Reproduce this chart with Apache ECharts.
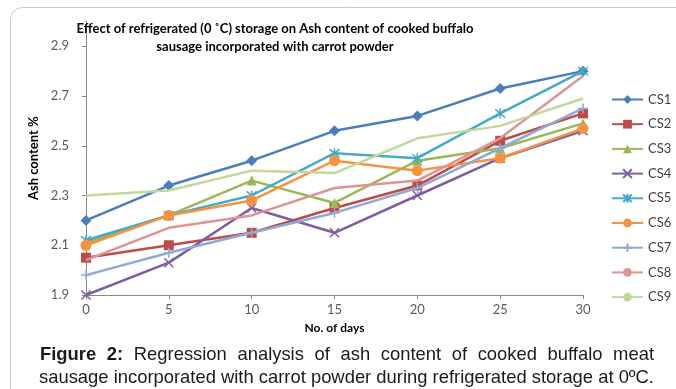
<!DOCTYPE html>
<html><head><meta charset="utf-8">
<script src="https://cdn.jsdelivr.net/npm/echarts@6/dist/echarts.min.js"></script>
<style>html,body{margin:0;padding:0;background:#fff}#c{width:676px;height:389px}</style>
</head><body><div id="c"></div>
<script>
// ---- data ----
const days = ['0', '5', '10', '15', '20', '25', '30'];
const names = ['CS1', 'CS2', 'CS3', 'CS4', 'CS5', 'CS6', 'CS7', 'CS8', 'CS9'];
const cs1 = [2.20, 2.34, 2.44, 2.56, 2.62, 2.73, 2.80];
const cs2 = [2.05, 2.10, 2.15, 2.25, 2.34, 2.52, 2.63];
const cs3 = [2.11, 2.22, 2.36, 2.27, 2.44, 2.49, 2.59];
const cs4 = [1.90, 2.03, 2.25, 2.15, 2.30, 2.45, 2.56];
const cs5 = [2.12, 2.22, 2.30, 2.47, 2.45, 2.63, 2.80];
const cs6 = [2.10, 2.22, 2.28, 2.44, 2.40, 2.45, 2.57];
const cs7 = [1.98, 2.07, 2.15, 2.23, 2.33, 2.49, 2.65];
const cs8 = [2.04, 2.17, 2.22, 2.33, 2.36, 2.53, 2.78];
const cs9 = [2.30, 2.32, 2.40, 2.39, 2.53, 2.58, 2.69];
const values = [cs1, cs2, cs3, cs4, cs5, cs6, cs7, cs8, cs9];
const titleLines = ['Effect of refrigerated (0 ˚C) storage on Ash content of cooked buffalo',
                    'sausage incorporated with carrot powder'];
const yName = 'Ash content %';
const xName = 'No. of days';
const captionWords1 = [['Figure', true], ['2:', true], ['Regression', false], ['analysis', false], ['of', false],
                       ['ash', false], ['content', false], ['of', false], ['cooked', false], ['buffalo', false], ['meat', false]];
const captionLine2 = 'sausage incorporated with carrot powder during refrigerated storage at 0ºC.';

// ---- styles ----
const colors = ['#4A7EBB', '#BE4B48', '#98B954', '#7D5FA0', '#46AAC5', '#F69240', '#8FAAD6', '#DC9593', '#C0D89A'];
const symbols = ['diamond', 'rect', 'triangle',
  'path://M0,0L10,10M10,0L0,10',
  'path://M0,0L10,10M10,0L0,10M5,-1L5,11',
  'circle',
  'path://M5,0L5,10M0,5L10,5',
  'none', 'none'];
const symbolSizes = [11, 10, 10, 9, 10, 11, 10, 0, 0];
const strokeSym = [false, false, false, true, true, false, true, false, false];

const series = names.map((n, i) => ({
  name: n, type: 'line', data: values[i],
  symbol: symbols[i], symbolSize: symbolSizes[i], showSymbol: symbols[i] !== 'none',
  lineStyle: { color: colors[i], width: 2.5 },
  itemStyle: strokeSym[i] ? { color: colors[i], borderColor: colors[i], borderWidth: 1.5 } : { color: colors[i] },
  emphasis: { disabled: true }, animation: false, z: 2 + i
}));

// ---- caption layout ----
const capFont = 'Liberation Sans, Arial, sans-serif';
const capSize = 18.4;
const cv = document.createElement('canvas').getContext('2d');
function tw(t, bold) { cv.font = (bold ? 'bold ' : '') + capSize + 'px ' + capFont; return cv.measureText(t).width; }
const capLeft = 40, capRight = 654;
let wsum = 0; captionWords1.forEach(w => wsum += tw(w[0], w[1]));
const gap = (capRight - capLeft - wsum) / (captionWords1.length - 1);
const graphics = [];
let cx = capLeft;
captionWords1.forEach(w => {
  graphics.push({ type: 'text', x: cx, y: 355, style: { text: w[0], font: (w[1] ? 'bold ' : '') + capSize + 'px ' + capFont, fill: '#1a1a1a', textVerticalAlign: 'middle' } });
  cx += tw(w[0], w[1]) + gap;
});
graphics.push({ type: 'text', x: capLeft - 1, y: 378, style: { text: captionLine2, font: capSize + 'px ' + capFont, fill: '#1a1a1a', textVerticalAlign: 'middle' } });
graphics.push({ type: 'rect', shape: { x: 10.5, y: 7.5, width: 720, height: 420, r: 12 }, style: { fill: 'none', stroke: '#c8c8c8', lineWidth: 1 }, z: -1 });

const chart = echarts.init(document.getElementById('c'));
chart.setOption({
  animation: false,
  title: {
    text: titleLines.join('\n'), left: 270, top: 15, textAlign: 'center',
    textStyle: { fontFamily: 'Lato', fontWeight: 'bold', fontSize: 13, color: '#000', lineHeight: 18 }
  },
  grid: { left: 86, right: 93, top: 21.4, bottom: 94 },
  legend: {
    orient: 'vertical', left: 606, top: 88, itemWidth: 31, itemHeight: 11, itemGap: 11.7,
    data: names, textStyle: { fontFamily: 'Lato', fontSize: 13, color: '#404040' }, selectedMode: false
  },
  xAxis: {
    type: 'category', data: days, boundaryGap: false,
    name: xName, nameLocation: 'middle', nameGap: 27,
    nameTextStyle: { fontFamily: 'Lato', fontWeight: 'bold', fontSize: 12, color: '#000' },
    axisLine: { lineStyle: { color: '#868686', width: 1 } },
    axisTick: { show: true, alignWithLabel: true, length: 4, lineStyle: { color: '#868686' } },
    axisLabel: { fontFamily: 'Lato', fontSize: 13, color: '#595959', margin: 8 },
    splitLine: { show: false }
  },
  yAxis: {
    type: 'value', min: 1.9, max: 3.0, interval: 0.2,
    name: yName, nameLocation: 'middle', nameGap: 46, nameRotate: 90,
    nameTextStyle: { fontFamily: 'Lato', fontWeight: 'bold', fontSize: 13, color: '#000' },
    axisLine: { show: true, lineStyle: { color: '#868686', width: 1 } },
    axisTick: { show: true, length: 4, lineStyle: { color: '#868686' } },
    axisLabel: { fontFamily: 'Lato', fontSize: 13, color: '#595959', margin: 17, showMaxLabel: false,
      formatter: v => v.toFixed(1) },
    splitLine: { show: false }
  },
  series: series,
  graphic: graphics
});
</script></body></html>
